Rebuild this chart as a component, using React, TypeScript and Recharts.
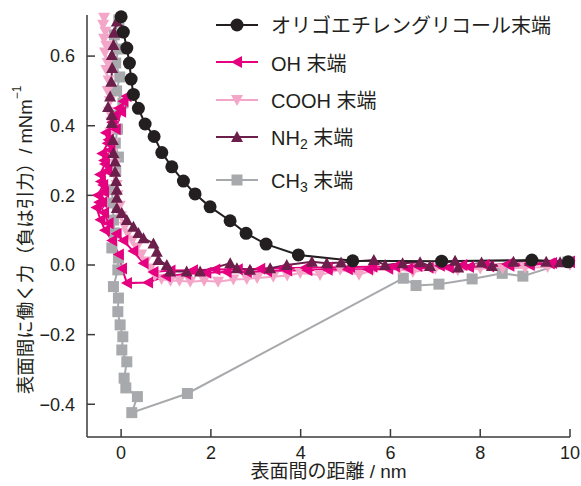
import React from 'react';
import { LineChart, Line, XAxis, YAxis, Legend } from 'recharts';

// [距離 nm, 力 mN/m]
const oegData = [
  [0.0, 0.713], [0.05, 0.669], [0.127, 0.623], [0.185, 0.58], [0.223, 0.534], [0.274, 0.49],
  [0.385, 0.45], [0.535, 0.405], [0.735, 0.369], [0.906, 0.323], [1.129, 0.282], [1.388, 0.241],
  [1.648, 0.204], [1.982, 0.167], [2.428, 0.127], [2.784, 0.091], [3.229, 0.06], [3.949, 0.029],
  [5.16, 0.012], [7.14, 0.011], [9.15, 0.014], [9.96, 0.009],
];

const ohData = [
  [10.0, 0.008], [9.55, 0.004], [9.1, 0.0], [8.65, -0.002], [8.2, -0.004], [7.75, -0.006], [7.3, -0.008],
  [6.85, -0.008], [6.4, -0.01], [5.95, -0.011], [5.5, -0.012], [5.05, -0.012], [4.6, -0.014], [4.15, -0.015],
  [3.7, -0.016], [3.25, -0.018], [2.8, -0.02], [2.35, -0.02], [1.9, -0.022], [1.45, -0.026], [1.0, -0.032],
  [0.6, -0.05], [0.13, -0.052],
  [0.02, -0.01], [-0.05, 0.03], [-0.2, 0.07], [-0.36, 0.1], [-0.46, 0.13], [-0.55, 0.165], [-0.42, 0.18],
  [-0.52, 0.2], [-0.4, 0.23], [-0.47, 0.26], [-0.36, 0.29], [-0.42, 0.32], [-0.3, 0.35], [-0.34, 0.38],
  [-0.2, 0.41], [-0.14, 0.43], [-0.05, 0.45], [0.05, 0.47], [0.12, 0.485],
  [0.0, 0.44], [-0.12, 0.39], [-0.28, 0.36], [-0.24, 0.33], [-0.38, 0.3], [-0.31, 0.27], [-0.45, 0.24],
  [-0.38, 0.21], [-0.49, 0.18], [-0.38, 0.15], [-0.28, 0.12], [-0.1, 0.09], [0.05, 0.07], [0.27, 0.04],
  [0.5, 0.005], [0.72, -0.02],
  [1.1, -0.016], [1.6, -0.015], [2.1, -0.013], [2.6, -0.012], [3.1, -0.011], [3.6, -0.009], [4.1, -0.008],
  [4.6, -0.007], [5.1, -0.006], [5.6, -0.005], [6.1, -0.004], [6.6, -0.003], [7.1, -0.002], [7.6, 0.0],
  [8.1, 0.0], [8.6, 0.002], [9.1, 0.004], [9.6, 0.006], [10.0, 0.01],
];

const coohData = [
  [-0.38, 0.71], [-0.4, 0.69], [-0.35, 0.67], [-0.38, 0.65], [-0.33, 0.63], [-0.36, 0.61], [-0.3, 0.58],
  [-0.33, 0.56], [-0.28, 0.53], [-0.3, 0.5], [-0.25, 0.47], [-0.27, 0.44], [-0.22, 0.41], [-0.24, 0.38],
  [-0.18, 0.35], [-0.2, 0.32], [-0.14, 0.29], [-0.15, 0.26], [-0.1, 0.23], [-0.08, 0.2], [-0.03, 0.17],
  [0.0, 0.14], [0.08, 0.11], [0.15, 0.09], [0.25, 0.07], [0.35, 0.05], [0.45, 0.03], [0.55, 0.01],
  [0.65, -0.01], [0.75, -0.03], [0.9, -0.04], [1.1, -0.045], [1.3, -0.045], [1.54, -0.048], [1.85, -0.045],
  [2.16, -0.048], [2.5, -0.042], [2.8, -0.04], [3.03, -0.037], [3.39, -0.034], [3.7, -0.03], [3.99, -0.023],
  [4.43, -0.029], [4.88, -0.014], [5.3, -0.028], [5.6, -0.015], [6.2, -0.012], [6.5, -0.02], [7.0, -0.01],
  [7.5, -0.015], [8.0, -0.01], [8.5, -0.01], [9.0, -0.008], [9.5, -0.006], [10.0, 0.0],
];

const nh2Data = [
  [-0.096, 0.699], [-0.156, 0.667], [-0.171, 0.632], [-0.207, 0.603], [-0.2, 0.566], [-0.22, 0.526],
  [-0.245, 0.484], [-0.29, 0.454], [-0.207, 0.431], [-0.207, 0.408], [-0.185, 0.359], [-0.171, 0.322],
  [-0.134, 0.297], [-0.134, 0.268], [-0.111, 0.241], [-0.096, 0.216], [-0.096, 0.193], [-0.096, 0.164],
  [0.016, 0.149], [0.127, 0.129], [0.274, 0.11], [0.385, 0.092], [0.497, 0.077], [0.72, 0.062],
  [0.795, 0.038], [0.83, 0.014], [1.018, 0.0], [1.09, -0.019], [1.46, -0.019], [1.76, -0.019],
  [2.43, 0.005], [2.58, -0.009], [2.87, -0.014], [3.32, -0.009], [3.69, 0.0], [4.25, 0.009],
  [4.58, 0.005], [4.9, 0.007], [5.63, 0.014], [5.88, 0.0], [6.27, 0.005], [6.66, 0.008], [6.88, -0.003],
  [7.44, 0.012], [7.51, -0.007], [8.03, 0.007], [8.26, -0.003], [8.74, 0.009], [9.11, 0.012],
  [9.47, 0.009], [9.78, 0.008],
];

const ch3Data = [
  [-0.05, 0.704], [-0.15, 0.661], [-0.06, 0.62], [-0.12, 0.58], [-0.03, 0.54], [-0.1, 0.5], [0.04, 0.465],
  [-0.16, 0.43], [-0.08, 0.39], [-0.13, 0.35], [-0.06, 0.31], [-0.12, 0.27], [-0.207, 0.216],
  [-0.185, 0.178], [-0.171, 0.129], [-0.149, 0.092], [-0.207, 0.049], [-0.06, 0.02], [-0.073, -0.014],
  [-0.171, -0.062], [-0.06, -0.095], [-0.073, -0.134], [-0.022, -0.172], [0.038, -0.206], [0.016, -0.244],
  [0.127, -0.278], [0.067, -0.325], [0.105, -0.353], [0.363, -0.378], [0.238, -0.424], [1.477, -0.369],
  [6.287, -0.038], [6.57, -0.059], [7.08, -0.055], [7.82, -0.04], [8.49, -0.024], [8.95, -0.032],
  [9.955, 0.009],
];

const xTicks = [0, 2, 4, 6, 8, 10];
const yTicks = [-0.4, -0.2, 0, 0.2, 0.4, 0.6];

const seriesNames = ['オリゴエチレングリコール末端', 'OH 末端', 'COOH 末端', 'NH2 末端', 'CH3 末端'];
const colors = ['#231f20', '#e4007f', '#f4a6c9', '#6c1f4b', '#a7a9ac'];

const toPts = (a: number[][]) => a.map(([x, y]) => ({ x, y }));

const FONT = '"Liberation Sans", Arial, "Noto Sans CJK JP", sans-serif';
const TEXT = '#231f20';

type Shape = 'circle' | 'left' | 'down' | 'up' | 'square';
const shapes: Shape[] = ['circle', 'left', 'down', 'up', 'square'];

function marker(shape: Shape, cx: number, cy: number, fill: string, key?: React.Key) {
  switch (shape) {
    case 'circle':
      return <circle key={key} cx={cx} cy={cy} r={6.5} fill={fill} />;
    case 'square':
      return <rect key={key} x={cx - 5.5} y={cy - 5.5} width={11} height={11} fill={fill} />;
    case 'left':
      return <polygon key={key} points={`${cx - 6},${cy} ${cx + 5},${cy - 6} ${cx + 5},${cy + 6}`} fill={fill} />;
    case 'down':
      return <polygon key={key} points={`${cx - 6},${cy - 5} ${cx + 6},${cy - 5} ${cx},${cy + 6}`} fill={fill} />;
    default:
      return <polygon key={key} points={`${cx},${cy - 6} ${cx + 6},${cy + 5} ${cx - 6},${cy + 5}`} fill={fill} />;
  }
}

const dotFor = (shape: Shape, fill: string) => (p: any) => {
  if (p.cx == null || p.cy == null) return <g key={p.index} />;
  return marker(shape, p.cx, p.cy, fill, p.index);
};

const fmtY = (v: number) => (v === 0 ? '0.0' : v.toFixed(1).replace('-', '−'));

function YTitle(props: any) {
  const { viewBox } = props;
  const cx = viewBox.x + 25;
  const cy = viewBox.y + viewBox.height / 2 + 14;
  return (
    <text x={cx} y={cy} transform={`rotate(-90 ${cx} ${cy})`} textAnchor="middle" dominantBaseline="central"
      fontSize={18.5} fill={TEXT} style={{ fontFamily: FONT }}>
      表面間に働く力（負は引力）/ mNm
      <tspan fontSize={12} dy={-8}>−1</tspan>
    </text>
  );
}

function XTitle(props: any) {
  const { viewBox } = props;
  return (
    <text x={viewBox.x + viewBox.width / 2} y={viewBox.y + 41} textAnchor="middle" fontSize={19} fill={TEXT}
      style={{ fontFamily: FONT }}>
      表面間の距離 / nm
    </text>
  );
}

function LegendLabel({ name }: { name: string }) {
  const m = name.match(/^(NH|CH)(\d)(.*)$/);
  if (!m) return <>{name}</>;
  return (
    <>
      {m[1]}
      <sub style={{ fontSize: 14, verticalAlign: '-4px' }}>{m[2]}</sub>
      {m[3]}
    </>
  );
}

function LegendBox() {
  return (
    <div style={{ fontFamily: FONT, fontSize: 20, color: TEXT }}>
      {seriesNames.map((n, i) => (
        <div key={n} style={{ display: 'flex', alignItems: 'center', height: 37.5, marginTop: i === 4 ? 5 : 0 }}>
          <svg width={42} height={16} style={{ marginRight: 13 }}>
            <line x1={0} y1={8} x2={42} y2={8} stroke={colors[i]} strokeWidth={2} />
            {marker(shapes[i], 21, 8, colors[i])}
          </svg>
          <span style={{ whiteSpace: 'nowrap' }}>
            <LegendLabel name={n} />
          </span>
        </div>
      ))}
    </div>
  );
}

const allData = [oegData, ohData, coohData, nh2Data, ch3Data];
const drawOrder = [4, 2, 1, 3, 0];

export default function App() {
  return (
    <div style={{ position: 'absolute', left: 0, top: 0, width: 581, height: 486, background: '#fff', fontFamily: FONT }}>
      <LineChart width={581} height={486} margin={{ top: 15, right: 11, bottom: 19, left: 0 }}>
        <XAxis
          type="number"
          dataKey="x"
          domain={[-0.76, 10]}
          ticks={xTicks}
          height={30}
          tickSize={-8}
          tickMargin={17}
          stroke="#3a3a3a"
          strokeWidth={1.5}
          tick={{ fill: TEXT, fontSize: 18 }}
          label={<XTitle />}
        />
        <YAxis
          type="number"
          domain={[-0.494, 0.718]}
          ticks={yTicks}
          width={87}
          tickSize={-8}
          tickMargin={20}
          stroke="#3a3a3a"
          strokeWidth={1.5}
          tick={{ fill: TEXT, fontSize: 18 }}
          tickFormatter={fmtY}
          label={<YTitle />}
        />
        {drawOrder.map((i) => (
          <Line
            key={seriesNames[i]}
            data={toPts(allData[i])}
            dataKey="y"
            name={seriesNames[i]}
            type="linear"
            stroke={colors[i]}
            strokeWidth={2}
            dot={dotFor(shapes[i], colors[i])}
            activeDot={false}
            isAnimationActive={false}
          />
        ))}
        <Legend
          layout="vertical"
          align="center"
          verticalAlign="middle"
          content={() => <LegendBox />}
          wrapperStyle={{ left: 216, top: 6, width: 365, height: 200 }}
        />
      </LineChart>
    </div>
  );
}
